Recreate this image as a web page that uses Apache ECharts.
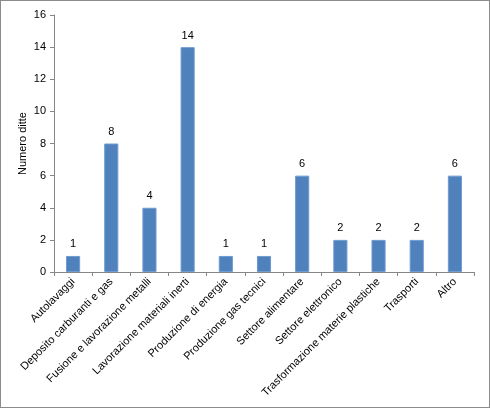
<!DOCTYPE html>
<html>
<head>
<meta charset="utf-8">
<script src="https://cdn.jsdelivr.net/npm/echarts@6/dist/echarts.min.js"></script>
<style>
html,body{margin:0;padding:0;background:#fff;}
#chart{width:488px;height:406px;border:1px solid #8c8c8c;}
</style>
</head>
<body>
<div id="chart"></div>
<script>
var categorie = ['Autolavaggi','Deposito carburanti e gas','Fusione e lavorazione metalli','Lavorazione materiali inerti','Produzione di energia','Produzione gas tecnici','Settore alimentare','Settore elettronico','Trasformazione materie plastiche','Trasporti','Altro'];
var numeroDitte = [1, 8, 4, 14, 1, 1, 6, 2, 2, 2, 6];

var myChart = echarts.init(document.getElementById('chart'));
var option = {
	animation: false,
	textStyle: { fontFamily: 'Liberation Sans' },
	grid: { left: 53, right: 15, top: 14, bottom: 135 },
	xAxis: {
		type: 'category',
		data: categorie,
		axisLine: { lineStyle: { color: '#868686' } },
		axisTick: { show: true, length: 4, lineStyle: { color: '#868686' } },
		axisLabel: { rotate: 45, color: '#000', fontSize: 11, interval: 0, margin: 8 }
	},
	yAxis: {
		type: 'value',
		min: 0, max: 16, interval: 2,
		name: 'Numero ditte',
		nameLocation: 'middle',
		nameGap: 26,
		nameMoveOverlap: false,
		nameTextStyle: { color: '#000', fontSize: 11 },
		axisLine: { show: true, lineStyle: { color: '#868686' } },
		axisTick: { show: true, length: 4, lineStyle: { color: '#868686' } },
		axisLabel: { color: '#000', fontSize: 11, margin: 8 },
		splitLine: { show: false }
	},
	series: [{
		type: 'bar',
		data: numeroDitte,
		barWidth: '37%',
		itemStyle: { color: '#4F81BD', borderColor: '#6f9bd0', borderWidth: 1 },
		label: { show: true, position: 'top', color: '#000', fontSize: 11, distance: 6 }
	}]
};
myChart.setOption(option);
</script>
</body>
</html>
